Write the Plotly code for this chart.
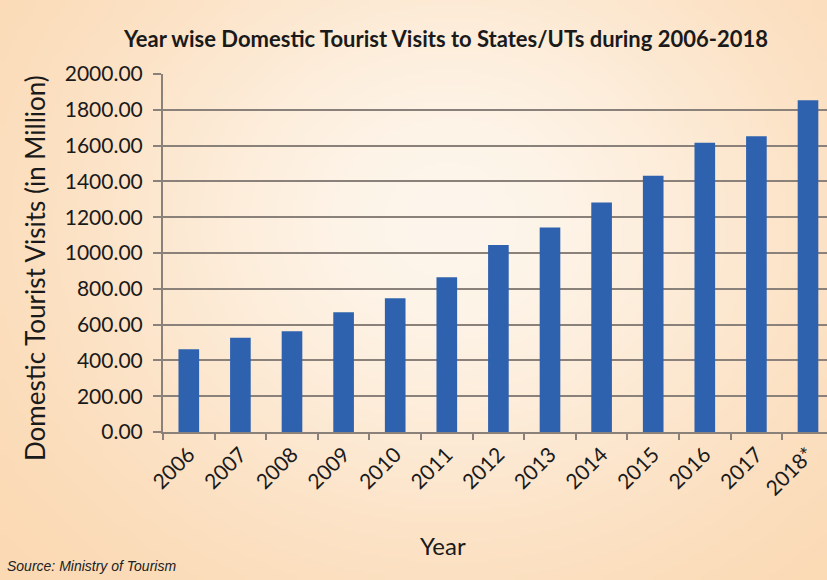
import base64, struct, zlib
import numpy as np
import plotly.graph_objects as go

years = ["2006", "2007", "2008", "2009", "2010", "2011", "2012",
         "2013", "2014", "2015", "2016", "2017", "2018*"]
visits = [462.3, 526.6, 563.0, 668.8, 747.7, 864.5, 1045.0,
          1142.5, 1282.8, 1432.0, 1615.4, 1652.5, 1853.8]
y_ticks = [0, 200, 400, 600, 800, 1000, 1200, 1400, 1600, 1800, 2000]

W, H = 827, 580
L, R, T, B = 163, 0, 74, 148
PW, PH = W - L - R, H - T - B


def png_data_uri(arr):
    h, w, _ = arr.shape
    raw = b"".join(b"\x00" + arr[i].tobytes() for i in range(h))
    def chunk(tag, data):
        c = struct.pack(">I", len(data)) + tag + data
        return c + struct.pack(">I", zlib.crc32(tag + data) & 0xffffffff)
    png = b"\x89PNG\r\n\x1a\n" + chunk(b"IHDR", struct.pack(">IIBBBBB", w, h, 8, 2, 0, 0, 0)) \
        + chunk(b"IDAT", zlib.compress(raw, 9)) + chunk(b"IEND", b"")
    return "data:image/png;base64," + base64.b64encode(png).decode()


gw, gh = 207, 145
xs = np.linspace(0, W, gw)[None, :]
ys = np.linspace(0, H, gh)[:, None]
f = np.exp(-((xs - 450) / 380) ** 2 - ((ys - 220) / 330) ** 2)
base = np.array([251, 215, 175], float)
light = np.array([254, 246, 236], float)
img = (base[None, None, :] + (light - base)[None, None, :] * f[:, :, None]).clip(0, 255).astype(np.uint8)
bg_uri = png_data_uri(img)

fig = go.Figure()
fig.add_trace(go.Bar(x=years, y=visits, marker=dict(color="#2f62ae", line=dict(width=0)),
                     hoverinfo="x+y"))

def px_x(p):
    return (p - L) / PW

def px_y(p):
    return (H - B - p) / PH

fig.add_layout_image(dict(source=bg_uri, xref="paper", yref="paper",
                          x=px_x(0), y=px_y(0), sizex=W / PW, sizey=H / PH,
                          sizing="stretch", xanchor="left", yanchor="top",
                          layer="below"))

grid_col = "#8a817a"
fig.update_layout(
    width=W, height=H,
    margin=dict(l=L, r=R, t=T, b=B, pad=0),
    paper_bgcolor="#fde7d0", plot_bgcolor="rgba(0,0,0,0)",
    bargap=0.6, showlegend=False,
    font=dict(family="Lato, Open Sans, sans-serif", color="#1a1a1a"),
    xaxis=dict(type="category", range=[-0.5, -0.5 + PW / 51.6],
               tickson="boundaries", ticks="outside", ticklen=6, tickcolor=grid_col,
               tickwidth=1.5, showgrid=False, showline=True, linecolor=grid_col,
               linewidth=2, tickangle=-45, tickfont=dict(size=21, color="#1a1a1a"),
               fixedrange=True),
    yaxis=dict(range=[0, 2000], tickvals=y_ticks,
               ticktext=[f"{v:.2f}" for v in y_ticks],
               ticks="outside", ticklen=8, tickcolor=grid_col, tickwidth=1.5,
               ticklabelstandoff=6,
               showgrid=True, gridcolor=grid_col, gridwidth=2,
               showline=True, linecolor=grid_col, linewidth=2,
               zeroline=False, tickfont=dict(size=21, color="#1a1a1a"),
               fixedrange=True),
)

fig.add_annotation(text="<b>Year wise Domestic Tourist Visits to States/UTs during 2006-2018</b>",
                   xref="paper", yref="paper", x=px_x(445), y=px_y(38),
                   xanchor="center", yanchor="middle", showarrow=False,
                   font=dict(size=22, color="#1a1a1a", family="Lato, Open Sans, sans-serif"))
fig.add_annotation(text="Domestic Tourist Visits (in Million)",
                   xref="paper", yref="paper", x=px_x(35), y=px_y(268),
                   xanchor="center", yanchor="middle", showarrow=False, textangle=-90,
                   font=dict(size=26, color="#1a1a1a", family="Lato, Open Sans, sans-serif"))
fig.add_annotation(text="Year",
                   xref="paper", yref="paper", x=px_x(443), y=px_y(545),
                   xanchor="center", yanchor="middle", showarrow=False,
                   font=dict(size=24, color="#1a1a1a", family="Lato, Open Sans, sans-serif"))
fig.add_annotation(text="Source: Ministry of Tourism",
                   xref="paper", yref="paper", x=px_x(5), y=px_y(566),
                   xanchor="left", yanchor="middle", showarrow=False,
                   font=dict(size=14, color="#222222", style="italic",
                             family="Liberation Sans Narrow, Liberation Sans, Arial, sans-serif"))

fig.write_html("out.html")
